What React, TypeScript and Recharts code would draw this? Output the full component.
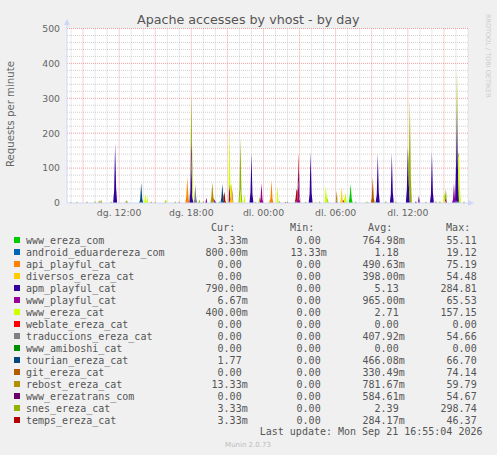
import React from "react";
import { ComposedChart, Area, XAxis, YAxis, CartesianGrid } from "recharts";

const title = "Apache accesses by vhost - by day";
const yAxisTitle = "Requests per minute";
const watermark = "RRDTOOL / TOBI OETIKER";
const lastUpdate = "Last update: Mon Sep 21 16:55:04 2026";
const footer = "Munin 2.0.73";

const yTicks = [0, 100, 200, 300, 400, 500];
// minutes since dg. 00:00
const xTicks = [720, 1080, 1440, 1800, 2160];
const xTickLabels = ["dg. 12:00", "dg. 18:00", "dl. 00:00", "dl. 06:00", "dl. 12:00"];
const timeStart = 460;
const timeEnd = 2460;
const timeStep = 5;

const seriesNames = [
  "www_ereza_com",
  "android_eduardereza_com",
  "api_playful_cat",
  "diversos_ereza_cat",
  "apm_playful_cat",
  "www_playful_cat",
  "www_ereza_cat",
  "weblate_ereza_cat",
  "traduccions_ereza_cat",
  "www_amiboshi_cat",
  "tourian_ereza_cat",
  "git_ereza_cat",
  "rebost_ereza_cat",
  "www_erezatrans_com",
  "snes_ereza_cat",
  "temps_ereza_cat",
];
const seriesColors = [
  "#00CC00", "#0066B3", "#FF8000", "#FFCC00", "#330099", "#990099", "#CCFF00", "#FF0000",
  "#808080", "#008F00", "#00487D", "#B35A00", "#B38F00", "#6B006B", "#8FB300", "#B30000",
];
const curValues = ["3.33m", "800.00m", "0.00", "0.00", "790.00m", "6.67m", "400.00m", "0.00", "0.00", "0.00", "1.77", "0.00", "13.33m", "0.00", "3.33m", "3.33m"];
const minValues = ["0.00", "13.33m", "0.00", "0.00", "0.00", "0.00", "0.00", "0.00", "0.00", "0.00", "0.00", "0.00", "0.00", "0.00", "0.00", "0.00"];
const avgValues = ["764.98m", "1.18", "490.63m", "398.00m", "5.13", "965.00m", "2.71", "0.00", "407.92m", "0.00", "466.08m", "330.49m", "781.67m", "584.61m", "2.39", "284.17m"];
const maxValues = ["55.11", "19.12", "75.19", "54.48", "284.81", "65.53", "157.15", "0.00", "54.66", "0.00", "66.70", "74.14", "59.79", "54.67", "298.74", "46.37"];

// [minute, requests per minute]; other samples ~0
const wwwErezaCom: [number, number][] = [[1180, 6], [1600, 5], [1870, 20], [1875, 55], [1880, 12], [2000, 4]];
const androidEduardereza: [number, number][] = [[830, 4], [1230, 5], [2400, 8], [2410, 6]];
const apiPlayful: [number, number][] = [[1055, 20], [1060, 75], [1065, 15], [1475, 15], [1480, 66], [1485, 12]];
const diversosEreza: [number, number][] = [[1275, 10], [1280, 54], [1285, 10], [1825, 8], [1830, 45], [1835, 8], [2345, 8]];
const apmPlayful: [number, number][] = [
  [695, 35], [700, 171], [705, 45], [1075, 30], [1080, 140], [1085, 20], [1200, 4], [1375, 30], [1380, 143], [1385, 25],
  [1550, 3], [1670, 25], [1675, 147], [1680, 30], [2005, 25], [2010, 143], [2015, 30], [2075, 25], [2080, 143], [2085, 30],
  [2155, 40], [2160, 160], [2165, 50], [2200, 5], [2275, 25], [2280, 147], [2285, 30], [2400, 80], [2405, 284], [2410, 90],
];
const wwwPlayful: [number, number][] = [[1155, 15], [1195, 10], [1270, 60], [1425, 12], [1430, 57], [1435, 10], [1610, 15], [1615, 65], [1620, 10], [1840, 8], [2215, 6], [2350, 15], [2385, 10], [2390, 57], [2395, 12]];
const wwwErezaCat: [number, number][] = [
  [850, 28], [860, 20], [955, 10], [1085, 60], [1265, 30], [1270, 150], [1275, 40], [1325, 40], [1345, 25], [1510, 50],
  [1620, 10], [1700, 6], [1750, 50], [1755, 20], [1845, 15], [1850, 30], [1950, 5], [2340, 28], [2410, 30], [2415, 137], [2420, 40],
];
const weblateEreza: [number, number][] = [];
const traduccionsEreza: [number, number][] = [[1095, 10], [1100, 54], [1105, 12], [1805, 10]];
const wwwAmiboshi: [number, number][] = [];
const tourianEreza: [number, number][] = [[825, 10], [830, 54], [835, 12], [1230, 10], [1235, 55], [1240, 10], [2400, 15]];
const gitEreza: [number, number][] = [[1285, 20], [1980, 15], [1985, 74], [1990, 15]];
const rebostEreza: [number, number][] = [[630, 10], [880, 4], [1020, 5], [1180, 12], [1185, 60], [1190, 15], [1560, 5], [1805, 25], [2300, 6]];
const wwwErezatrans: [number, number][] = [[1075, 10], [1080, 54], [1085, 10], [1270, 5], [1610, 10], [1615, 50], [1620, 10], [2215, 15]];
const snesEreza: [number, number][] = [
  [480, 3], [510, 4], [560, 5], [600, 6], [620, 8], [680, 4], [755, 7], [760, 5], [900, 4], [950, 6], [1000, 5], [1065, 10],
  [1075, 20], [1080, 120], [1085, 25], [1120, 10], [1140, 6], [1220, 5], [1320, 40], [1325, 150], [1330, 30], [1400, 4],
  [1420, 15], [1470, 5], [1520, 6], [1650, 4], [1720, 5], [1760, 10], [1900, 5], [1960, 4], [2050, 6], [2100, 5],
  [2165, 60], [2170, 298], [2175, 70], [2250, 4], [2320, 6], [2345, 10], [2350, 25], [2405, 100], [2410, 20], [2440, 5],
];
const tempsEreza: [number, number][] = [[1240, 5], [1245, 32], [1250, 6], [1600, 8], [1605, 40], [1610, 8], [1615, 30]];

const seriesSpikes = [
  wwwErezaCom, androidEduardereza, apiPlayful, diversosEreza, apmPlayful, wwwPlayful, wwwErezaCat, weblateEreza,
  traduccionsEreza, wwwAmiboshi, tourianEreza, gitEreza, rebostEreza, wwwErezatrans, snesEreza, tempsEreza,
];

const data: Record<string, number>[] = [];
for (let t = timeStart; t <= timeEnd; t += timeStep) {
  const row: Record<string, number> = { t };
  seriesSpikes.forEach((sp, i) => {
    row["s" + i] = sp.filter((p) => p[0] === t).reduce((a, p) => a + p[1], 0);
  });
  data.push(row);
}

const minorY: number[] = [];
for (let v = 20; v < 500; v += 20) if (v % 100 !== 0) minorY.push(v);
const majorY = [100, 200, 300, 400, 500];
const minorX: number[] = [];
const majorX: number[] = [];
for (let v = 480; v <= timeEnd; v += 60) {
  if (v % 180 === 0) majorX.push(v);
  else minorX.push(v);
}

const FONT = "DejaVu Sans";
const MONO = "DejaVu Sans Mono";
const AXIS = "#CFD6F8";

const colRight = [247.7, 326.7, 404.7, 482.7];

function ValueText({ x, y, s }: { x: number; y: number; s: string }) {
  const hasUnit = s.endsWith("m");
  return (
    <text x={hasUnit ? x : x - 6.02} y={y} textAnchor="end" fontFamily={MONO} fontSize={10} fill="#555">
      {s}
    </text>
  );
}

export default function App() {
  return (
    <div style={{ position: "absolute", left: 0, top: 0, width: 497, height: 455, background: "#f0f0f0", overflow: "hidden" }}>
      <ComposedChart width={497} height={455} data={data} margin={{ top: 28.5, right: 29, bottom: 222, left: 7 }}>
        <CartesianGrid horizontalValues={minorY} verticalValues={minorX} stroke="#d0d0d0" strokeDasharray="1 1" fill="#ffffff" />
        <CartesianGrid horizontalValues={majorY} verticalValues={majorX} stroke="#f0a0a0" strokeDasharray="1 1" />
        <XAxis
          dataKey="t"
          type="number"
          domain={[timeStart, timeEnd]}
          ticks={xTicks}
          interval={0}
          allowDataOverflow
          tickFormatter={(v: number) => xTickLabels[xTicks.indexOf(v)]}
          axisLine={false}
          tickLine={false}
          tickSize={3}
          tickMargin={3.5}
          tick={{ fill: "#666", fontSize: 9.3, fontFamily: FONT }}
        />
        <YAxis
          type="number"
          domain={[0, 500]}
          ticks={yTicks}
          interval={0}
          allowDataOverflow
          axisLine={false}
          tickLine={false}
          tickSize={5}
          tickMargin={2}
          tick={{ fill: "#666", fontSize: 9.3, fontFamily: FONT }}
        />
        {seriesNames.map((n, i) => (
          <Area
            key={n}
            dataKey={"s" + i}
            stackId="a"
            type="linear"
            fill={seriesColors[i]}
            fillOpacity={1}
            stroke="none"
            dot={false}
            activeDot={false}
            isAnimationActive={false}
          />
        ))}
      </ComposedChart>
      <svg width={497} height={455} style={{ position: "absolute", left: 0, top: 0, pointerEvents: "none" }}>
        <text x={248.3} y={23.5} textAnchor="middle" fontFamily={FONT} fontSize={12.7} fill="#555">
          {title}
        </text>
        <text x={13.5} y={114} textAnchor="middle" fontFamily={FONT} fontSize={10.2} fill="#666" transform="rotate(-90 13.5 114)">
          {yAxisTitle}
        </text>
        <text x={485.7} y={14} fontFamily={FONT} fontSize={6.5} fill="#ccc" transform="rotate(90 485.7 14)">
          {watermark}
        </text>
        <line x1={67} y1={203} x2={67} y2={22} stroke={AXIS} strokeWidth={1} />
        <polygon points="67,19 64,25 70,25" fill={AXIS} />
        <line x1={67} y1={203} x2={470} y2={203} stroke={AXIS} strokeWidth={1} />
        <polygon points="474,203 468,200 468,206" fill={AXIS} />
        {["Cur:", "Min:", "Avg:", "Max:"].map((h, i) => (
          <text key={h} x={colRight[i] - 12.5} y={231} textAnchor="end" fontFamily={MONO} fontSize={10} fill="#555">
            {h}
          </text>
        ))}
        {seriesNames.map((n, i) => {
          const cy = 240 + i * 12;
          return (
            <g key={n}>
              <rect x={14} y={cy - 3} width={6} height={6} fill={seriesColors[i]} />
              <text x={26} y={cy + 3.5} fontFamily={MONO} fontSize={10} fill="#555">
                {n}
              </text>
              <ValueText x={colRight[0]} y={cy + 3.5} s={curValues[i]} />
              <ValueText x={colRight[1]} y={cy + 3.5} s={minValues[i]} />
              <ValueText x={colRight[2]} y={cy + 3.5} s={avgValues[i]} />
              <ValueText x={colRight[3]} y={cy + 3.5} s={maxValues[i]} />
            </g>
          );
        })}
        <text x={482.5} y={435.3} textAnchor="end" fontFamily={MONO} fontSize={10} fill="#555">
          {lastUpdate}
        </text>
        <text x={248} y={446.5} textAnchor="middle" fontFamily={FONT} fontSize={7} fill="#bbb">
          {footer}
        </text>
      </svg>
    </div>
  );
}
